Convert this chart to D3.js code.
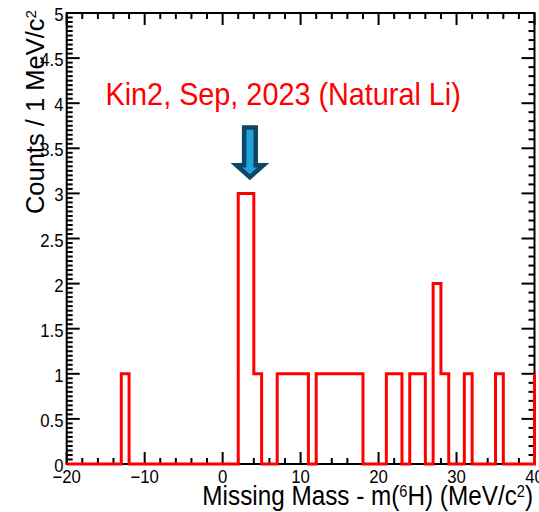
<!DOCTYPE html>
<html>
<head>
<meta charset="utf-8">
<script src="https://cdn.jsdelivr.net/npm/d3@7"></script>
<style>
  body { margin: 0; background: #fff; }
  text { font-family: 'Liberation Sans', Arial, Helvetica, sans-serif; }
</style>
</head>
<body>
<svg id="chart"></svg>
<script>
// histogram: 1 MeV bins starting at -20 (last bin sits just past the axis end)
const binStart = -20
const binWidth = 1
const counts = [
	0, 0, 0, 0, 0, 0, 0, 1, 0, 0,   // -20 .. -11
	0, 0, 0, 0, 0, 0, 0, 0, 0, 0,   // -10 .. -1
	0, 0, 3, 3, 1, 0, 0, 1, 1, 1,   //   0 .. 9
	1, 0, 1, 1, 1, 1, 1, 1, 0, 0,   //  10 .. 19
	0, 1, 1, 0, 1, 1, 0, 2, 1, 0,   //  20 .. 29
	0, 1, 0, 0, 0, 1, 0, 0, 0, 0,   //  30 .. 39
	1                               //  40
]

const xDomain = [-20, 40]
const yDomain = [0, 5]
const xMajorTicks = [-20, -10, 0, 10, 20, 30, 40]
const xTickLabels = ['\u221220', '\u221210', '0', '10', '20', '30', '40']
const yMajorTicks = [0, 0.5, 1, 1.5, 2, 2.5, 3, 3.5, 4, 4.5, 5]
const yTickLabels = ['0', '0.5', '1', '1.5', '2', '2.5', '3', '3.5', '4', '4.5', '5']

// arrow marking the peak (data units)
const arrowX = 3.5
const arrowTop = 3.73
const arrowTip = 3.18

const W = 539, H = 512
const plot = {left: 66.7, right: 534.5, top: 13, bottom: 464}
const sx = 0.9   // horizontal text is a bit narrow in the original

const svg = d3.select('#chart')
	.attr('width', W)
	.attr('height', H)

const x = d3.scaleLinear().domain(xDomain).range([plot.left, plot.right])
const y = d3.scaleLinear().domain(yDomain).range([plot.bottom, plot.top])

// frame
svg.append('rect')
	.attr('x', plot.left)
	.attr('y', plot.top)
	.attr('width', plot.right - plot.left)
	.attr('height', plot.bottom - plot.top)
	.attr('fill', 'none')
	.attr('stroke', '#000')
	.attr('stroke-width', 2)

const ticks = svg.append('g')
	.attr('stroke', '#000')
	.attr('stroke-width', 2)

function xTicks(vals, len) {
	ticks.selectAll(null).data(vals).enter().append('line')
		.attr('x1', d => x(d)).attr('x2', d => x(d))
		.attr('y1', plot.bottom).attr('y2', plot.bottom - len)
	ticks.selectAll(null).data(vals).enter().append('line')
		.attr('x1', d => x(d)).attr('x2', d => x(d))
		.attr('y1', plot.top).attr('y2', plot.top + len)
}
function yTicks(vals, len, side) {
	const x0 = side === 'left' ? plot.left : plot.right
	const dir = side === 'left' ? 1 : -1
	ticks.selectAll(null).data(vals).enter().append('line')
		.attr('x1', x0).attr('x2', x0 + dir * len)
		.attr('y1', d => y(d)).attr('y2', d => y(d))
}

const xMinor = d3.range(xDomain[0], xDomain[1] + 0.001, 2).filter(v => !xMajorTicks.includes(v))
xTicks(xMajorTicks, 12)
xTicks(xMinor, 6)

const yMinorLeft = d3.range(0, 5.001, 0.05).filter(v => Math.abs(v * 2 - Math.round(v * 2)) > 1e-6)
const yMinorRight = d3.range(0, 5.001, 0.1).filter(v => Math.abs(v * 2 - Math.round(v * 2)) > 1e-6)
yTicks(yMajorTicks, 13, 'left')
yTicks(yMinorLeft, 6, 'left')
yTicks(yMajorTicks, 13, 'right')
yTicks(yMinorRight, 6, 'right')

// tick labels
svg.append('g').selectAll('text')
	.data(xMajorTicks)
	.enter().append('text')
	.attr('transform', d => `translate(${x(d)},482.5) scale(0.93,1)`)
	.attr('text-anchor', 'middle')
	.attr('font-size', 18)
	.text((d, i) => xTickLabels[i])

svg.append('g').selectAll('text')
	.data(yMajorTicks)
	.enter().append('text')
	.attr('transform', d => `translate(63.5,${y(d) + 8}) scale(0.93,1)`)
	.attr('text-anchor', 'end')
	.attr('font-size', 18)
	.text((d, i) => yTickLabels[i])

// histogram outline
const pts = [[xDomain[0], 0]]
counts.forEach((c, i) => {
	const lo = binStart + i * binWidth
	const hi = lo + binWidth
	pts.push([Math.min(lo, xDomain[1]), c])
	pts.push([Math.min(hi, xDomain[1]), c])
})
const line = d3.line().x(d => x(d[0])).y(d => y(d[1]))
svg.append('path')
	.attr('d', line(pts))
	.attr('fill', 'none')
	.attr('stroke', '#ff0000')
	.attr('stroke-width', 3)
	.attr('stroke-linejoin', 'miter')

// arrow
const ax = x(arrowX)
const aTop = y(arrowTop), aTip = y(arrowTip)
const shaftHalf = 5.8, headHalf = 13.5, headLen = 12
const arrowPts = [
	[ax - shaftHalf, aTop], [ax + shaftHalf, aTop],
	[ax + shaftHalf, aTip - headLen], [ax + headHalf, aTip - headLen],
	[ax, aTip], [ax - headHalf, aTip - headLen],
	[ax - shaftHalf, aTip - headLen]
]
svg.append('polygon')
	.attr('points', arrowPts.map(p => p.join(',')).join(' '))
	.attr('fill', '#1ea3dc')
	.attr('stroke', '#0d4763')
	.attr('stroke-width', 4.5)
	.attr('stroke-linejoin', 'miter')

// title text
svg.append('text')
	.attr('transform', `translate(105.5,105) scale(${sx},1)`)
	.attr('font-size', 32)
	.attr('fill', '#ff0000')
	.text('Kin2, Sep, 2023 (Natural Li)')

// axis titles
const xt = svg.append('text')
	.attr('transform', `translate(533,505) scale(${sx},1)`)
	.attr('text-anchor', 'end')
	.attr('font-size', 27)
xt.append('tspan').text('Missing Mass - m(')
xt.append('tspan').attr('baseline-shift', 'super').attr('font-size', '60%').text('6')
xt.append('tspan').text('H) (MeV/c')
xt.append('tspan').attr('baseline-shift', 'super').attr('font-size', '60%').text('2')
xt.append('tspan').text(')')

const yt = svg.append('text')
	.attr('transform', 'translate(44,10) rotate(-90)')
	.attr('text-anchor', 'end')
	.attr('font-size', 25.5)
yt.append('tspan').text('Counts / 1 MeV/c')
yt.append('tspan').attr('baseline-shift', 'super').attr('font-size', '60%').text('2')
</script>
</body>
</html>
